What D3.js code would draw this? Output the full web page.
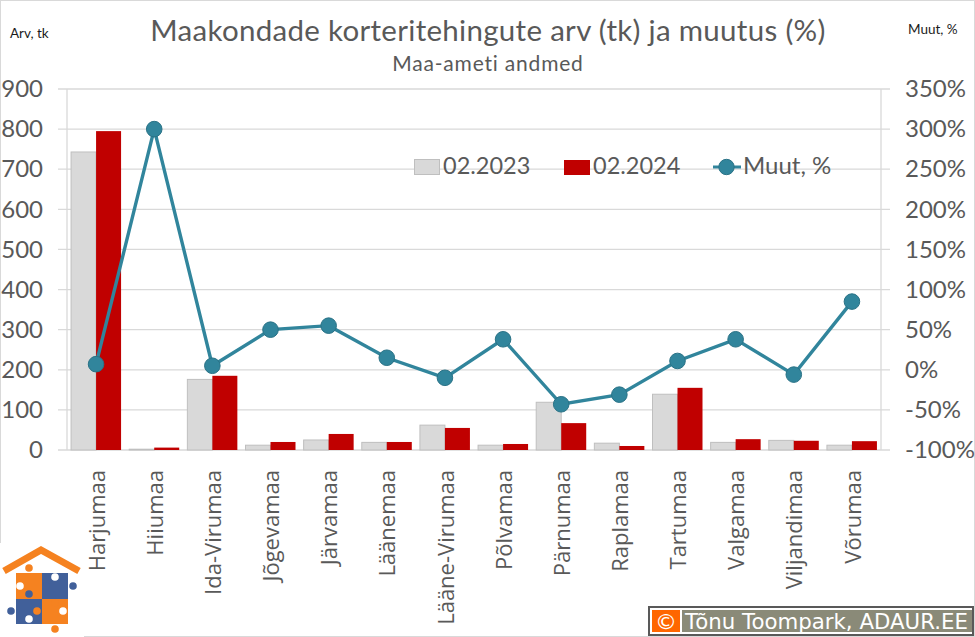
<!DOCTYPE html>
<html>
<head>
<meta charset="utf-8">
<script src="https://cdn.jsdelivr.net/npm/d3@7"></script>
<style>
  html, body { margin: 0; padding: 0; background: #fff; }
  svg { display: block; }
  text { font-family: Lato, "Open Sans", sans-serif; fill: #595959; }
</style>
</head>
<body>
<div id="chart"></div>
<script>
// data
var categories = ["Harjumaa", "Hiiumaa", "Ida-Virumaa", "Jõgevamaa", "Järvamaa", "Läänemaa", "Lääne-Virumaa",
  "Põlvamaa", "Pärnumaa", "Raplamaa", "Tartumaa", "Valgamaa", "Viljandimaa", "Võrumaa"];
var values2023 = [743, 2, 176, 12, 25, 19, 62, 12, 119, 17, 139, 19, 24, 12];
var values2024 = [795, 6, 185, 20, 40, 20, 55, 15, 67, 10, 155, 27, 23, 22];
var changePct = [7, 300, 5, 50, 55, 15, -10, 38, -43, -31, 11, 38, -6, 85];
var leftTicks = [0, 100, 200, 300, 400, 500, 600, 700, 800, 900];
var rightTicks = [-100, -50, 0, 50, 100, 150, 200, 250, 300, 350];

var svgWidth = 975;
var svgHeight = 637;

var margin = { top: 89, right: 94, bottom: 187, left: 67 };
var width = svgWidth - margin.left - margin.right;
var height = svgHeight - margin.top - margin.bottom;

var svg = d3.select("#chart")
  .append("svg")
  .attr("width", svgWidth)
  .attr("height", svgHeight);

// thin frame around the image
svg.append("rect").attr("x", 0.5).attr("y", 0.5).attr("width", 974).attr("height", 636)
  .attr("fill", "none").attr("stroke", "#d9d9d9");

var chartGroup = svg.append("g")
  .attr("transform", `translate(${margin.left}, ${margin.top})`);

// scales
var xScale = d3.scaleBand().domain(categories).range([0, width]).padding(0);
var yLeft = d3.scaleLinear().domain([0, 900]).range([height, 0]);
var yRight = d3.scaleLinear().domain([-100, 350]).range([height, 0]);

var barWidth = 25;

// gridlines, they stick out past both axis lines like tick marks
chartGroup.append("g").selectAll("line")
  .data(leftTicks)
  .enter()
  .append("line")
  .attr("x1", -9)
  .attr("x2", width + 9)
  .attr("y1", d => yLeft(d))
  .attr("y2", d => yLeft(d))
  .attr("stroke", "#d9d9d9")
  .attr("stroke-width", 1.3);

// vertical axis lines
[0, width].forEach(function(x) {
  chartGroup.append("line")
    .attr("x1", x).attr("x2", x)
    .attr("y1", 0).attr("y2", height)
    .attr("stroke", "#d9d9d9")
    .attr("stroke-width", 1.3);
});

// bars
chartGroup.append("g").selectAll("rect")
  .data(values2023)
  .enter()
  .append("rect")
  .attr("x", (d, i) => xScale(categories[i]) + xScale.bandwidth() / 2 - barWidth)
  .attr("y", d => yLeft(d))
  .attr("width", barWidth)
  .attr("height", d => height - yLeft(d))
  .attr("fill", "#d9d9d9")
  .attr("stroke", "#bfbfbf")
  .attr("stroke-width", 1);

chartGroup.append("g").selectAll("rect")
  .data(values2024)
  .enter()
  .append("rect")
  .attr("x", (d, i) => xScale(categories[i]) + xScale.bandwidth() / 2)
  .attr("y", d => yLeft(d))
  .attr("width", barWidth)
  .attr("height", d => height - yLeft(d))
  .attr("fill", "#c00000");

// line + markers
var changeLine = d3.line()
  .x((d, i) => xScale(categories[i]) + xScale.bandwidth() / 2)
  .y(d => yRight(d));

chartGroup.append("path")
  .attr("d", changeLine(changePct))
  .attr("fill", "none")
  .attr("stroke", "#31859c")
  .attr("stroke-width", 3.4);

chartGroup.append("g").selectAll("circle")
  .data(changePct)
  .enter()
  .append("circle")
  .attr("cx", (d, i) => xScale(categories[i]) + xScale.bandwidth() / 2)
  .attr("cy", d => yRight(d))
  .attr("r", 7.8)
  .attr("fill", "#31859c")
  .attr("stroke", "#2a7286")
  .attr("stroke-width", 1);

// axes
var leftAxis = d3.axisLeft(yLeft).tickValues(leftTicks).tickSize(0).tickPadding(24);
var rightAxis = d3.axisRight(yRight).tickValues(rightTicks).tickSize(0).tickPadding(24)
  .tickFormat(d => d + "%");
var bottomAxis = d3.axisBottom(xScale).tickSize(0);

var gLeft = chartGroup.append("g").call(leftAxis);
var gRight = chartGroup.append("g").attr("transform", `translate(${width}, 0)`).call(rightAxis);
var gBottom = chartGroup.append("g").attr("transform", `translate(0, ${height})`).call(bottomAxis);

[gLeft, gRight, gBottom].forEach(g => g.select(".domain").remove());

gLeft.selectAll("text").style("font-family", "Lato").style("font-size", "24px").attr("fill", "#595959");
gRight.selectAll("text").style("font-family", "Lato").style("font-size", "24px").attr("fill", "#595959");
gBottom.selectAll("text")
  .style("font-family", "Open Sans")
  .style("font-size", "22px")
  .attr("fill", "#595959")
  .attr("text-anchor", "end")
  .attr("transform", "rotate(-90)")
  .attr("x", -20)
  .attr("y", 1)
  .attr("dy", "0.35em");

// titles
svg.append("text")
  .attr("x", 488).attr("y", 41)
  .attr("text-anchor", "middle")
  .style("font-size", "29.5px")
  .style("letter-spacing", "0.3px")
  .text("Maakondade korteritehingute arv (tk) ja muutus (%)");

svg.append("text")
  .attr("x", 488).attr("y", 71)
  .attr("text-anchor", "middle")
  .style("font-size", "21px")
  .style("letter-spacing", "0.8px")
  .text("Maa-ameti andmed");

svg.append("text").attr("x", 10).attr("y", 38).style("font-size", "13.5px").style("fill", "#1a1a1a").text("Arv, tk");
svg.append("text").attr("x", 908).attr("y", 34).style("font-size", "13.5px").style("fill", "#1a1a1a").text("Muut, %");

// legend
svg.append("rect").attr("x", 414.5).attr("y", 159.5).attr("width", 25).attr("height", 15)
  .attr("fill", "#d9d9d9").attr("stroke", "#bfbfbf");
svg.append("text").attr("x", 443).attr("y", 174).style("font-size", "23.5px").text("02.2023");
svg.append("rect").attr("x", 564).attr("y", 160).attr("width", 26).attr("height", 15).attr("fill", "#c00000");
svg.append("text").attr("x", 593).attr("y", 174).style("font-size", "23.5px").text("02.2024");
svg.append("line").attr("x1", 713).attr("x2", 741).attr("y1", 167).attr("y2", 167)
  .attr("stroke", "#31859c").attr("stroke-width", 3);
svg.append("circle").attr("cx", 726.5).attr("cy", 167).attr("r", 7.7)
  .attr("fill", "#31859c").attr("stroke", "#2a7286");
svg.append("text").attr("x", 743).attr("y", 174).style("font-size", "24px").text("Muut, %");

// logo: house roof and four puzzle pieces
var logoOrange = "#f58220";
var logoBlue = "#41609a";
var logo = svg.append("g");
logo.append("rect").attr("x", 0).attr("y", 543).attr("width", 84).attr("height", 94).attr("fill", "#fff");
logo.append("path").attr("d", "M4,571 L41,550 L79,571").attr("fill", "none")
  .attr("stroke", logoOrange).attr("stroke-width", 7);
logo.append("rect").attr("x", 16).attr("y", 573).attr("width", 26).attr("height", 26).attr("fill", logoOrange);
logo.append("rect").attr("x", 42).attr("y", 573).attr("width", 26).attr("height", 26).attr("fill", logoBlue);
logo.append("rect").attr("x", 16).attr("y", 599).attr("width", 26).attr("height", 25).attr("fill", logoBlue);
logo.append("rect").attr("x", 42).attr("y", 599).attr("width", 26).attr("height", 25).attr("fill", logoOrange);
var knobs = [[29, 568, logoOrange], [73, 586, logoBlue], [29, 594, logoBlue], [11, 611, logoBlue],
  [55, 629, logoOrange], [55, 603, logoOrange], [37, 611, logoOrange], [46, 586, logoBlue],
  [20, 586, "#fff"], [55, 577, "#fff"], [29, 619, "#fff"], [63, 611, "#fff"]];
logo.selectAll("circle").data(knobs).enter().append("circle")
  .attr("cx", d => d[0]).attr("cy", d => d[1]).attr("r", 3.8).attr("fill", d => d[2]);

// copyright box
svg.append("rect").attr("x", 649).attr("y", 607).attr("width", 324).attr("height", 28)
  .attr("fill", "#fff").attr("stroke", "#595959").attr("stroke-width", 2);
svg.append("rect").attr("x", 652).attr("y", 610).attr("width", 28).attr("height", 22).attr("fill", "#ff6600");
svg.append("rect").attr("x", 682).attr("y", 610).attr("width", 290).attr("height", 22).attr("fill", "#8a8a78");
svg.append("text").attr("x", 666).attr("y", 629).attr("text-anchor", "middle")
  .style("font-family", "DejaVu Sans").style("font-size", "22px").style("fill", "#fff").text("©");
svg.append("text").attr("x", 685).attr("y", 629)
  .style("font-family", "DejaVu Sans").style("font-size", "21.3px").style("fill", "#fff").text("Tõnu Toompark, ADAUR.EE");
</script>
</body>
</html>
